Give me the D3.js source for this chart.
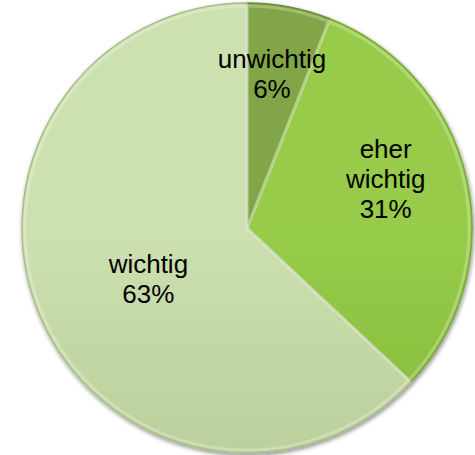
<!DOCTYPE html>
<html>
<head>
<meta charset="utf-8">
<script src="https://cdn.jsdelivr.net/npm/d3@7"></script>
<style>
  body { margin: 0; background: #fff; }
  svg { display: block; }
</style>
</head>
<body>
<div id="chart"></div>
<script>
var categories = ["unwichtig", "eher wichtig", "wichtig"];
var values = [6, 31, 63];
var labelLines = [["unwichtig", "6%"], ["eher", "wichtig", "31%"], ["wichtig", "63%"]];

var svgWidth = 475;
var svgHeight = 455;
var cx = 247;
var cy = 228;
var radius = 225;

// light / dark colour per slice
var colLight = ["#82a646", "#97cb49", "#cde0b0"];
var colDark = ["#6b8f31", "#79ab31", "#a8bf87"];
// label placement (distance from centre, angle nudge in degrees)
var labelR = [156, 147, 111];
var labelShift = [-1.6, -6.8, -3.9];

var svg = d3.select("#chart")
    .append("svg")
    .attr("width", svgWidth)
    .attr("height", svgHeight);

var defs = svg.append("defs");

var shadow = defs.append("filter")
    .attr("id", "shadow")
    .attr("x", "-10%").attr("y", "-10%")
    .attr("width", "120%").attr("height", "120%");
shadow.append("feGaussianBlur").attr("in", "SourceAlpha").attr("stdDeviation", 2);
shadow.append("feOffset").attr("dx", 1).attr("dy", 2).attr("result", "off");
shadow.append("feComponentTransfer").append("feFuncA").attr("type", "linear").attr("slope", 0.45);
var merge = shadow.append("feMerge");
merge.append("feMergeNode");
merge.append("feMergeNode").attr("in", "SourceGraphic");

categories.forEach(function(c, i) {
    var g = defs.append("linearGradient")
        .attr("id", "grad" + i)
        .attr("gradientUnits", "userSpaceOnUse")
        .attr("x1", 0).attr("y1", cy - radius)
        .attr("x2", 0).attr("y2", cy + radius);
    g.append("stop").attr("offset", "0%").attr("stop-color", colLight[i]);
    g.append("stop").attr("offset", "100%").attr("stop-color", colDark[i]);
});

var pie = d3.pie().sort(null).value(function(d) { return d; });
var arcs = pie(values);

var arc = d3.arc().innerRadius(0).outerRadius(radius);
var bevel = d3.arc().innerRadius(0).outerRadius(radius - 3);

var g = svg.append("g")
    .attr("transform", "translate(" + cx + "," + cy + ")");

g.append("g")
    .attr("filter", "url(#shadow)")
    .selectAll("path")
    .data(arcs)
    .enter()
    .append("path")
    .attr("d", arc)
    .attr("fill", function(d, i) { return "url(#grad" + i + ")"; })
    .attr("stroke", function(d, i) { return colDark[i]; })
    .attr("stroke-width", 1.5);

// soft highlight along inner edges (bevel look)
g.append("g")
    .selectAll("path")
    .data(arcs)
    .enter()
    .append("path")
    .attr("d", bevel)
    .attr("fill", "none")
    .attr("stroke", "#ffffff")
    .attr("stroke-opacity", 0.25)
    .attr("stroke-width", 3);

var labels = g.append("g")
    .selectAll("text")
    .data(arcs)
    .enter()
    .append("text")
    .attr("text-anchor", "middle")
    .attr("font-family", "Liberation Sans, Arial, sans-serif")
    .attr("font-size", "26px")
    .attr("fill", "#000")
    .attr("transform", function(d, i) {
        var a = (d.startAngle + d.endAngle) / 2 + labelShift[i] * Math.PI / 180;
        var c = d3.arc().innerRadius(labelR[i]).outerRadius(labelR[i])
            .startAngle(a).endAngle(a).centroid();
        return "translate(" + c[0] + "," + c[1] + ")";
    });

labels.each(function(d, i) {
    var lines = labelLines[i];
    var t = d3.select(this);
    var lh = 30;
    var start = -(lines.length - 1) * lh / 2 + 9;
    lines.forEach(function(s, k) {
        t.append("tspan").attr("x", 0).attr("y", start + k * lh).text(s);
    });
});
</script>
</body>
</html>
